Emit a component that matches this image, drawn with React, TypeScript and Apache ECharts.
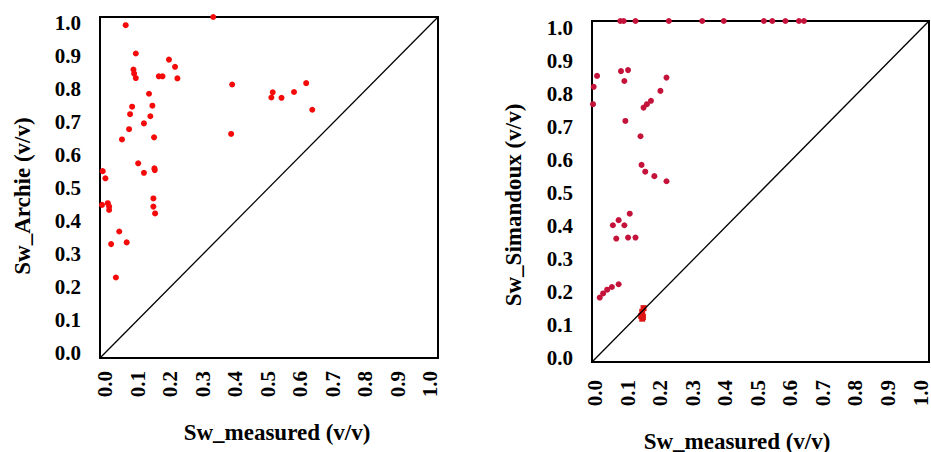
import React, { useEffect, useRef } from "react";
import * as echarts from "echarts";

const ticks = [0, 0.1, 0.2, 0.3, 0.4, 0.5, 0.6, 0.7, 0.8, 0.9, 1.0];

const archie: [number, number][] = [
  [0.335, 1.0], [0.076, 0.976], [0.106, 0.893], [0.099, 0.846], [0.101, 0.834],
  [0.106, 0.821], [0.204, 0.875], [0.222, 0.854], [0.229, 0.82], [0.174, 0.826],
  [0.185, 0.826], [0.391, 0.802], [0.145, 0.775], [0.155, 0.74], [0.095, 0.737],
  [0.089, 0.715], [0.149, 0.709], [0.13, 0.688], [0.086, 0.671], [0.065, 0.641],
  [0.16, 0.647], [0.388, 0.657], [0.511, 0.779], [0.507, 0.764], [0.537, 0.763],
  [0.574, 0.78], [0.61, 0.806], [0.628, 0.728], [0.113, 0.571], [0.13, 0.543],
  [0.161, 0.556], [0.162, 0.551], [0.008, 0.548], [0.016, 0.527], [0.023, 0.454],
  [0.027, 0.434], [0.027, 0.444], [0.006, 0.449], [0.158, 0.468], [0.158, 0.444],
  [0.163, 0.424], [0.057, 0.371], [0.033, 0.334], [0.079, 0.339], [0.047, 0.236],
];

const simandoux: [number, number][] = [
  [0.084, 1.0], [0.094, 1.0], [0.129, 1.0], [0.228, 1.0], [0.327, 1.0], [0.391, 1.0],
  [0.51, 1.0], [0.535, 1.0], [0.574, 1.0], [0.614, 1.0], [0.629, 1.0],
  [0.015, 0.839], [0.005, 0.807], [0.003, 0.756], [0.086, 0.853], [0.107, 0.856],
  [0.096, 0.824], [0.221, 0.834], [0.203, 0.795], [0.175, 0.766], [0.163, 0.756],
  [0.153, 0.746], [0.099, 0.707], [0.144, 0.662], [0.147, 0.578], [0.158, 0.558],
  [0.185, 0.545], [0.221, 0.53], [0.112, 0.435], [0.079, 0.416], [0.062, 0.401],
  [0.096, 0.401], [0.072, 0.362], [0.107, 0.365], [0.129, 0.365], [0.023, 0.189],
  [0.033, 0.201], [0.045, 0.212], [0.059, 0.22], [0.079, 0.228],
];

const simandouxCluster: [number, number][] = [
  [0.149, 0.147], [0.151, 0.132], [0.149, 0.127], [0.153, 0.158], [0.146, 0.135],
];

const diagonal: [number, number][] = [[0, 0], [1, 1]];

const FONT = "Liberation Serif";

const labelStyle = {
  color: "#000",
  fontFamily: FONT,
  fontWeight: "bold",
  fontSize: 21,
  formatter: (v: number) => v.toFixed(1),
};

// data axes: frame only
function dataAxis(gridIndex: number) {
  return {
    type: "value",
    gridIndex,
    min: 0,
    max: 1,
    interval: 0.1,
    axisLine: { show: true, lineStyle: { color: "#000", width: 2 } },
    axisTick: { show: false },
    splitLine: { show: false },
    axisLabel: { show: false },
  };
}

// label axes: tick labels only
function labelAxisX(gridIndex: number, margin: number) {
  return {
    type: "value",
    gridIndex,
    min: 0,
    max: 1,
    interval: 0.1,
    axisLine: { show: false },
    axisTick: { show: false },
    splitLine: { show: false },
    axisLabel: { ...labelStyle, rotate: 90, margin, customValues: ticks },
  };
}

function labelAxisY(gridIndex: number, margin: number) {
  return {
    type: "value",
    gridIndex,
    min: 0,
    max: 1,
    interval: 0.1,
    axisLine: { show: false },
    axisTick: { show: false },
    splitLine: { show: false },
    axisLabel: { ...labelStyle, margin, customValues: ticks },
  };
}

const nameStyle = (text: string) => ({
  text,
  font: `bold 23px "${FONT}"`,
  fill: "#000",
  textAlign: "center",
  textVerticalAlign: "middle",
});

export default function App() {
  const ref = useRef<HTMLDivElement>(null);
  useEffect(() => {
    if (!ref.current) return;
    const chart = echarts.init(ref.current, undefined, { renderer: "svg" });
    chart.setOption({
      animation: false,
      backgroundColor: "#fff",
      grid: [
        { left: 100, top: 17, width: 338, height: 341, show: true, borderColor: "#000", borderWidth: 2, backgroundColor: "transparent" },
        { left: 592, top: 21, width: 337, height: 341, show: true, borderColor: "#000", borderWidth: 2, backgroundColor: "transparent" },
        { left: 105, top: 23, width: 325, height: 330, show: false },
        { left: 595, top: 28, width: 327, height: 330, show: false },
      ],
      xAxis: [dataAxis(0), dataAxis(1), labelAxisX(2, 18), labelAxisX(3, 22)],
      yAxis: [dataAxis(0), dataAxis(1), labelAxisY(2, 24), labelAxisY(3, 22)],
      series: [
        {
          type: "line", xAxisIndex: 0, yAxisIndex: 0, data: diagonal, showSymbol: false,
          lineStyle: { color: "#000", width: 1.3 }, silent: true,
        },
        {
          type: "scatter", xAxisIndex: 0, yAxisIndex: 0, data: archie, symbolSize: 6,
          itemStyle: { color: "#f50a0a", opacity: 1 },
        },
        {
          type: "line", xAxisIndex: 1, yAxisIndex: 1, data: diagonal, showSymbol: false,
          lineStyle: { color: "#000", width: 1.3 }, silent: true,
        },
        {
          type: "scatter", xAxisIndex: 1, yAxisIndex: 1, data: simandoux, symbolSize: 6,
          itemStyle: { color: "#c4123a", opacity: 1 },
        },
        {
          type: "scatter", xAxisIndex: 1, yAxisIndex: 1, data: simandouxCluster, symbol: "rect", symbolSize: 6,
          itemStyle: { color: "#dd1515", opacity: 1 },
        },
      ],
      graphic: [
        { type: "text", x: 22, y: 196, rotation: Math.PI / 2, style: nameStyle("Sw_Archie (v/v)") },
        { type: "text", x: 277, y: 432, style: nameStyle("Sw_measured (v/v)") },
        { type: "text", x: 513, y: 205, rotation: Math.PI / 2, style: nameStyle("Sw_Simandoux (v/v)") },
        { type: "text", x: 737, y: 441, style: nameStyle("Sw_measured (v/v)") },
      ],
    });
    return () => chart.dispose();
  }, []);
  return (
    <div
      ref={ref}
      style={{ position: "fixed", left: 0, top: 0, width: 931, height: 452 }}
    />
  );
}
